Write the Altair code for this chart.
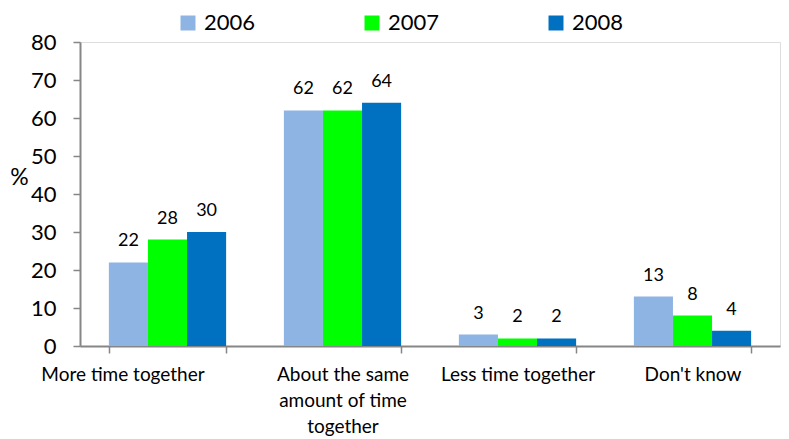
import altair as alt
import pandas as pd

categories = ["More time together", "About the same amount of time together",
              "Less time together", "Don't know"]
category_labels = ["More time together", "About the same|amount of time|together",
                   "Less time together", "Don't know"]
years = ["2006", "2007", "2008"]
values_2006 = [22, 62, 3, 13]
values_2007 = [28, 62, 2, 8]
values_2008 = [30, 64, 2, 4]
colors = ["#8EB4E3", "#00FF00", "#0070C0"]

rows = []
for yr, vals in zip(years, [values_2006, values_2007, values_2008]):
    for cat, lab, v in zip(categories, category_labels, vals):
        rows.append({"category": lab, "year": yr, "value": v})
df = pd.DataFrame(rows)

FONT = "Lato"

x = alt.X("category:N", sort=category_labels, title=None,
          scale=alt.Scale(paddingInner=0.33, paddingOuter=0.165),
          axis=alt.Axis(labelAngle=0, labelExpr="split(datum.label, '|')",
                        labelFontSize=19, labelColor="#000000", labelFont=FONT,
                        labelPadding=12, labelLineHeight=26,
                        labelOffset=alt.ExprRef(
                            expr="datum.value == 'More time together' ? -45 : 0"),
                        tickBand="extent", tickSize=7, tickColor="#868686",
                        domainColor="#868686", domainWidth=2, tickWidth=1.5))
xo = alt.XOffset("year:N", sort=years)
y = alt.Y("value:Q", scale=alt.Scale(domain=[0, 80]),
          axis=alt.Axis(values=list(range(0, 81, 10)), grid=False,
                        labelOverlap=False,
                        title="%", titleAngle=0, titleFontSize=23,
                        titleFont=FONT, titleFontWeight="normal",
                        titleX=-61, titleY=147, titleColor="#000000",
                        labelFontSize=22, labelFont=FONT, labelColor="#000000",
                        labelPadding=17, tickSize=7, tickColor="#868686",
                        domainColor="#868686", domainWidth=2, tickWidth=1.5))

base = alt.Chart(df)

bars = base.mark_bar().encode(
    x=x, xOffset=xo, y=y,
    color=alt.Color("year:N", sort=years,
                    scale=alt.Scale(domain=years, range=colors),
                    legend=alt.Legend(title=None, orient="none", direction="horizontal",
                                      legendX=97, legendY=-30,
                                      symbolType="square", symbolSize=225,
                                      symbolStrokeWidth=0,
                                      labelFontSize=22, labelFont=FONT,
                                      labelColor="#000000", labelOffset=5,
                                      columnPadding=105)),
)

labels = base.mark_text(baseline="bottom", dy=-12, fontSize=18, font=FONT,
                        color="#000000").encode(
    x=x, xOffset=xo, y=y, text=alt.Text("value:Q"))

chart = (bars + labels).properties(
    width=700, height=304,
    autosize=alt.AutoSizeParams(type="none"),
    padding={"left": 80, "top": 42, "right": 9, "bottom": 93},
).configure_view(stroke=None).configure(background="#FFFFFF")

chart.save("out.html", embed_options={"renderer": "svg", "actions": False})
